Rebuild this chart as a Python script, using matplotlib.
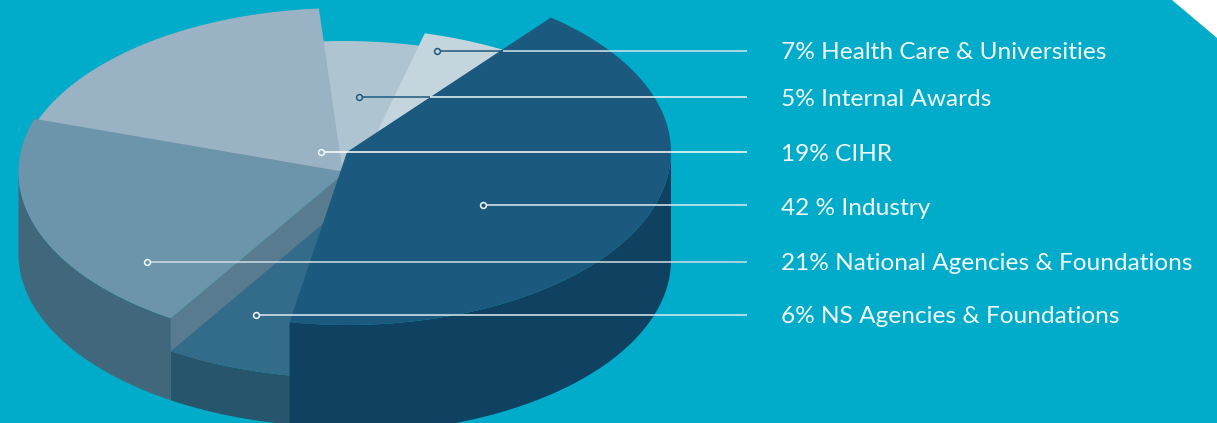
import numpy as np
import matplotlib
matplotlib.use("Agg")
import matplotlib.pyplot as plt

# funding shares, clockwise from the Industry slice
slices = ["Industry", "NS", "National", "CIHR", "Internal", "Health"]
shares = [42, 6, 21, 19, 5, 7]

label_text = ["7% Health Care & Universities", "5% Internal Awards", "19% CIHR",
              "42 % Industry", "21% National Agencies & Foundations", "6% NS Agencies & Foundations"]
label_base = [59, 106, 161, 215, 269.5, 323]
leader_y = [51, 97, 152, 205, 262, 315]
leader_x = [437, 359, 321, 483, 147, 256]
leader_break = [503, 430, None, None, None, None]  # where the dark part of a leader ends
leader_col = ["#d3e6ec", "#f2f8fa", "#ffffff", "#dfe9ee", "#d0dee5", "#dfe9ee"]

BG = "#00acc9"
RY = 173
START = 50.5

# each slice sits on its own ellipse: centre x, top face height, base height, radius, turn
centre_x = {"Industry": 347, "NS": 345.5, "National": 345.5, "CIHR": 344, "Internal": 344, "Health": 344}
top_y = {"Industry": 152, "NS": 205, "National": 172, "CIHR": 181, "Internal": 214, "Health": 201}
base_y = {"Industry": 260, "NS": 254, "National": 254}
radius = {"Industry": 324}
turn = {"Industry": 0.5, "CIHR": 0.7}

top_col = {"Industry": "#1b5a7e", "NS": "#336b8a", "National": "#6c95ab",
           "CIHR": "#99b3c5", "Internal": "#afc4d1", "Health": "#c5d5de"}
side_col = {"Industry": "#0f4160", "NS": "#27556c", "National": "#40677c"}
CUT_COL = "#597b8f"

# slice angles on the flattened circle
ends = START - np.cumsum(shares) * 3.6
starts = np.r_[START, ends[:-1]]
angle = {s: (a + turn.get(s, 0), b + turn.get(s, 0)) for s, a, b in zip(slices, starts, ends)}


def arc(name, a, b, cy):
    t = np.radians(np.linspace(a, b, 120))
    rx = radius.get(name, 327)
    return centre_x[name] + rx * np.cos(t), cy - RY * np.sin(t)


def draw_top(ax, name, lead=0):
    a, b = angle[name]
    x, y = arc(name, a + lead, b, top_y[name])
    ax.fill(np.r_[centre_x[name], x], np.r_[top_y[name], y], color=top_col[name], lw=0)


def draw_side(ax, name, a, b):
    x1, y1 = arc(name, a, b, top_y[name])
    x2, y2 = arc(name, a, b, base_y[name])
    ax.fill(np.r_[x1, x2[::-1]], np.r_[y1, y2[::-1]], color=side_col[name], lw=0)


fig = plt.figure(figsize=(12.17, 4.23), dpi=100, facecolor=BG)
ax = fig.add_axes([0, 0, 1, 1])
ax.set_xlim(0, 1217)
ax.set_ylim(423, 0)
ax.axis("off")

# back slices first, the lifted ones overlap them
draw_top(ax, "Internal")
draw_top(ax, "Health")
draw_top(ax, "CIHR")

# cut face of the National slice, seen above the lower NS slice
a0 = angle["National"][0]
ex, ey = arc("National", a0, a0, top_y["National"])
nx = centre_x["National"]
ax.fill([nx, ex[0], ex[0], nx],
        [top_y["National"], ey[0], ey[0] + base_y["National"] - top_y["National"], base_y["National"]],
        color=CUT_COL, lw=0)

# NS runs a little under the Industry slice so no gap opens at the joint
draw_side(ax, "NS", angle["NS"][0] + 4, angle["NS"][1])
draw_top(ax, "NS", lead=4)
draw_side(ax, "National", a0, -180)
draw_top(ax, "National")
draw_side(ax, "Industry", angle["Industry"][1], 0)
draw_top(ax, "Industry")

# leaders
for i, (lx, ly) in enumerate(zip(leader_x, leader_y)):
    brk = leader_break[i]
    ring = "#1f5a7e" if brk else "#f2f7f9"
    if brk:
        ax.plot([lx + 3, brk], [ly, ly], color="#1f5a7e", lw=1.1, solid_capstyle="butt")
        ax.plot([brk, 747], [ly, ly], color=leader_col[i], lw=1.1, solid_capstyle="butt")
    else:
        ax.plot([lx + 3, 747], [ly, ly], color=leader_col[i], lw=1.1, solid_capstyle="butt")
    ax.plot([lx], [ly], "o", ms=4.2, mfc="none", mec=ring, mew=1.1)

for txt, yb in zip(label_text, label_base):
    ax.text(781, yb, txt, color="#f2fafc", fontsize=17.6, family="Lato", va="baseline", ha="left")

# clipped corner of the panel
ax.fill([1172, 1217, 1217], [0, 38, 0], color="white", lw=0)

fig.savefig("out.png", dpi=100, facecolor=BG)
